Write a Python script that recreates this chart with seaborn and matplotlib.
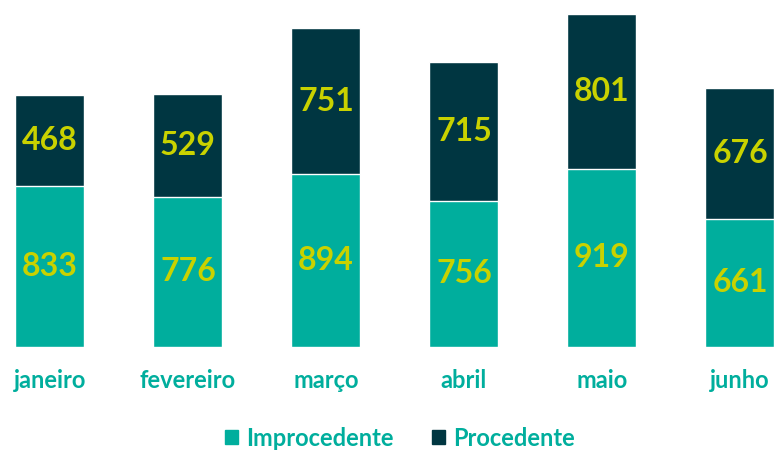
import matplotlib
matplotlib.use("Agg")
import matplotlib.pyplot as plt
from matplotlib.patches import Patch
import seaborn as sns
import pandas as pd

meses = ["janeiro", "fevereiro", "março", "abril", "maio", "junho"]
improcedente = [833, 776, 894, 756, 919, 661]
procedente = [468, 529, 751, 715, 801, 676]

teal = "#00AE9D"
dark = "#003641"
label_color = "#C9D200"

sns.set_theme(style="white")
plt.rcParams["font.family"] = ["Lato", "DejaVu Sans"]

df = pd.DataFrame({"mes": meses, "improcedente": improcedente, "procedente": procedente})
df["total"] = df["improcedente"] + df["procedente"]

fig = plt.figure(figsize=(7.84, 4.5), dpi=100)
ax = fig.add_axes([0, 103 / 450, 1, 1 - 103 / 450])

# stacked: total in dark first, bottom segment over it
sns.barplot(data=df, x="mes", y="total", color=dark, width=0.5, saturation=1, ax=ax)
sns.barplot(data=df, x="mes", y="improcedente", color=teal, width=0.5, saturation=1, ax=ax)

for i, (a, b) in enumerate(zip(improcedente, procedente)):
    ax.text(i, a / 2, str(a), ha="center", va="center", color=label_color,
            fontsize=23, fontweight="bold")
    ax.text(i, a + b / 2, str(b), ha="center", va="center", color=label_color,
            fontsize=23, fontweight="bold")

ax.set_xlim(-0.362, 5.319)
ax.set_ylim(0, 1791)
ax.set_xlabel("")
ax.set_ylabel("")
ax.set_yticks([])
ax.tick_params(axis="x", length=0, pad=16, labelsize=17, labelcolor=teal)
for t in ax.get_xticklabels():
    t.set_fontweight("bold")
sns.despine(ax=ax, left=True, bottom=True)

handles = [Patch(color=teal, label="Improcedente"), Patch(color=dark, label="Procedente")]
leg = fig.legend(handles=handles, loc="center", bbox_to_anchor=(400 / 784, 1 - 438 / 450),
                 ncol=2, frameon=False, handlelength=0.55, handleheight=0.55,
                 handletextpad=0.35, columnspacing=1.6,
                 prop={"size": 17, "weight": "bold"})
for t in leg.get_texts():
    t.set_color(teal)

fig.savefig("out.png", dpi=100)
